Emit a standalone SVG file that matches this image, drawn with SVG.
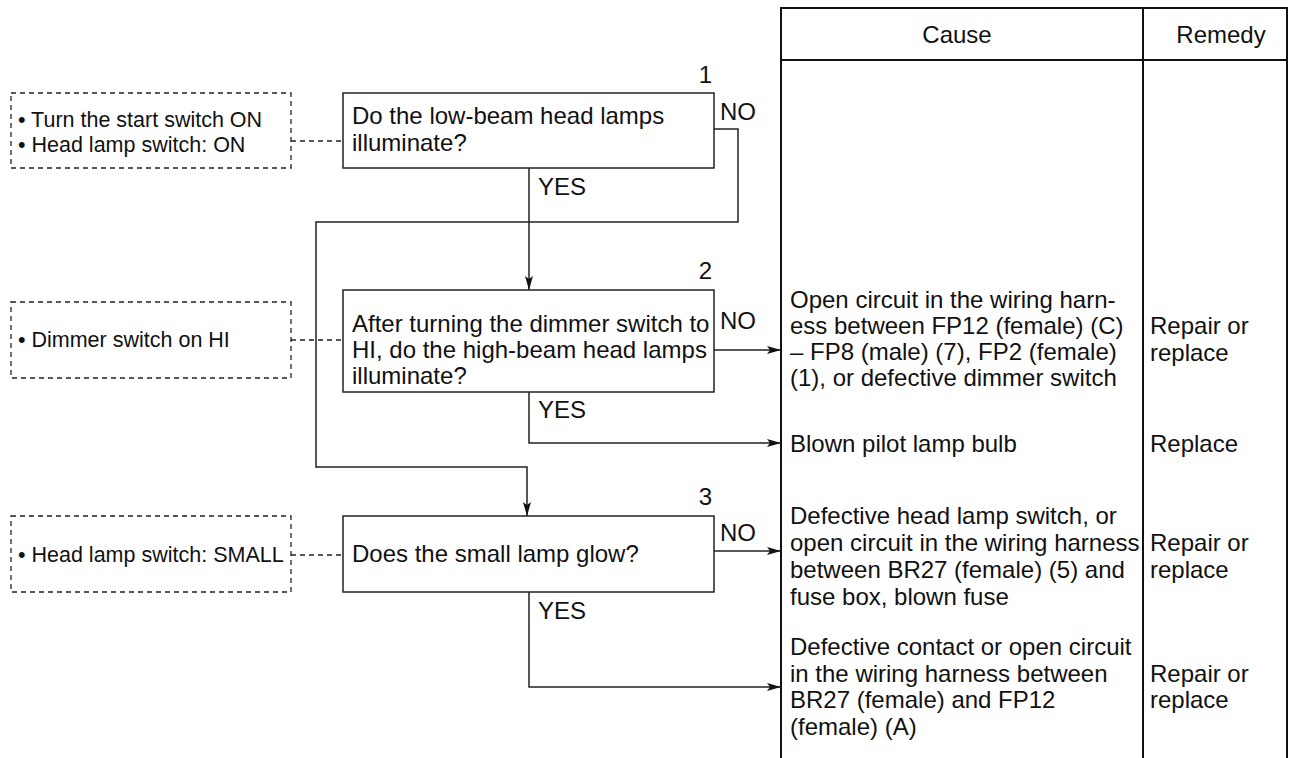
<svg xmlns="http://www.w3.org/2000/svg" width="1299" height="758" viewBox="0 0 1299 758">
  <style>
    text { font-family: "Liberation Sans", Arial, sans-serif; fill: #111; }
    .t { font-size: 24px; }
    .n { font-size: 21.5px; }
    .box { fill: #fff; stroke: #222; stroke-width: 1.5; }
    .note { fill: none; stroke: #222; stroke-width: 1.3; stroke-dasharray: 5 4; }
    .dash { fill: none; stroke: #222; stroke-width: 1.3; stroke-dasharray: 5 4; }
    .wire { fill: none; stroke: #222; stroke-width: 1.5; }
    .grid { fill: none; stroke: #111; stroke-width: 2; }
  </style>
  <defs>
    <marker id="arr" viewBox="0 0 14 8" refX="14" refY="4" markerWidth="14" markerHeight="8" markerUnits="userSpaceOnUse" orient="auto">
      <path d="M0,0 L14,4 L0,8 L3,4 Z" fill="#111"/>
    </marker>
  </defs>

  <!-- cause / remedy table -->
  <g id="table">
    <path class="grid" d="M781,758 V8 H1287 V758 M1143,8 V758 M781,60 H1287"/>
    <text class="t" x="957" y="43" text-anchor="middle">Cause</text>
    <text class="t" x="1221" y="43" text-anchor="middle">Remedy</text>
  </g>

  <!-- preconditions -->
  <g id="note1">
    <rect class="note" x="11" y="93" width="280" height="75"/>
    <text class="n" x="18" y="127">• Turn the start switch ON</text>
    <text class="n" x="18" y="152">• Head lamp switch: ON</text>
  </g>
  <g id="note2">
    <rect class="note" x="11" y="302" width="280" height="76"/>
    <text class="n" x="18" y="347">• Dimmer switch on HI</text>
  </g>
  <g id="note3">
    <rect class="note" x="11" y="516" width="280" height="76"/>
    <text class="n" x="18" y="562">• Head lamp switch: SMALL</text>
  </g>

  <!-- connectors -->
  <g id="connectors">
    <path class="dash" d="M291,141 H343 M291,340 H343 M291,555 H343"/>
    <path class="wire" d="M529,168 V290" marker-end="url(#arr)"/>
    <path class="wire" d="M714,129 H738 V222 H316 V467 H527 V516" marker-end="url(#arr)"/>
    <path class="wire" d="M714,350 H781" marker-end="url(#arr)"/>
    <path class="wire" d="M529,392 V443 H781" marker-end="url(#arr)"/>
    <path class="wire" d="M714,551 H781" marker-end="url(#arr)"/>
    <path class="wire" d="M529,592 V687 H781" marker-end="url(#arr)"/>
    <text class="t" x="720" y="120">NO</text>
    <text class="t" x="538" y="195">YES</text>
    <text class="t" x="720" y="329">NO</text>
    <text class="t" x="538" y="418">YES</text>
    <text class="t" x="720" y="541">NO</text>
    <text class="t" x="538" y="619">YES</text>
  </g>

  <!-- checks -->
  <g id="step1">
    <rect class="box" x="343" y="93" width="371" height="75"/>
    <text class="t" x="712" y="83" text-anchor="end">1</text>
    <text class="t" x="352" y="124">Do the low-beam head lamps</text>
    <text class="t" x="352" y="151">illuminate?</text>
  </g>
  <g id="step2">
    <rect class="box" x="343" y="290" width="371" height="102"/>
    <text class="t" x="712" y="279" text-anchor="end">2</text>
    <text class="t" x="352" y="332">After turning the dimmer switch to</text>
    <text class="t" x="352" y="358">HI, do the high-beam head lamps</text>
    <text class="t" x="352" y="384">illuminate?</text>
  </g>
  <g id="step3">
    <rect class="box" x="343" y="516" width="371" height="76"/>
    <text class="t" x="712" y="505" text-anchor="end">3</text>
    <text class="t" x="352" y="562">Does the small lamp glow?</text>
  </g>

  <!-- results -->
  <g id="result1">
    <text class="t" x="790" y="308">Open circuit in the wiring harn-</text>
    <text class="t" x="790" y="334">ess between FP12 (female) (C)</text>
    <text class="t" x="790" y="360">– FP8 (male) (7), FP2 (female)</text>
    <text class="t" x="790" y="386">(1), or defective dimmer switch</text>
    <text class="t" x="1150" y="334">Repair or</text>
    <text class="t" x="1150" y="361">replace</text>
  </g>
  <g id="result2">
    <text class="t" x="790" y="452">Blown pilot lamp bulb</text>
    <text class="t" x="1150" y="452">Replace</text>
  </g>
  <g id="result3">
    <text class="t" x="790" y="524">Defective head lamp switch, or</text>
    <text class="t" x="790" y="551">open circuit in the wiring harness</text>
    <text class="t" x="790" y="578">between BR27 (female) (5) and</text>
    <text class="t" x="790" y="605">fuse box, blown fuse</text>
    <text class="t" x="1150" y="551">Repair or</text>
    <text class="t" x="1150" y="578">replace</text>
  </g>
  <g id="result4">
    <text class="t" x="790" y="655">Defective contact or open circuit</text>
    <text class="t" x="790" y="682">in the wiring harness between</text>
    <text class="t" x="790" y="708">BR27 (female) and FP12</text>
    <text class="t" x="790" y="735">(female) (A)</text>
    <text class="t" x="1150" y="682">Repair or</text>
    <text class="t" x="1150" y="708">replace</text>
  </g>
</svg>
